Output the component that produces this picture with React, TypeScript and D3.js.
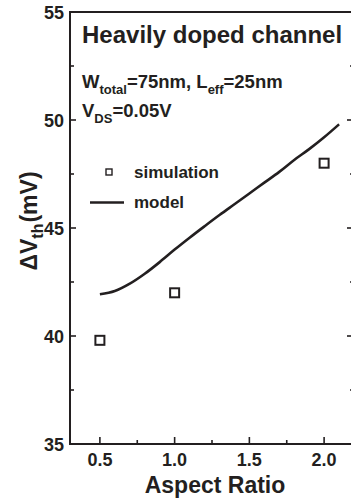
import React from 'react';
import * as d3 from 'd3';

// tick values
const xMajor = [0.5, 1.0, 1.5, 2.0];
const xMinor = [0.75, 1.25, 1.75];
const yMajor = [35, 40, 45, 50, 55];
const yMinor = [37.5, 42.5, 47.5, 52.5];

// simulation points
const simX = [0.5, 1.0, 2.0];
const simY = [39.8, 42.0, 48.0];

// model curve
const modelX = [0.5, 0.6, 0.7, 0.8, 0.9, 1.0, 1.1, 1.2, 1.3, 1.4, 1.5, 1.6, 1.7, 1.8, 1.9, 2.0, 2.1];
const modelY = [41.93, 42.08, 42.42, 42.88, 43.42, 44.0, 44.55, 45.08, 45.6, 46.1, 46.6, 47.1, 47.6, 48.15, 48.65, 49.2, 49.8];

const W = 351;
const H = 499;
const ink = '#231f20';
const font = "'Liberation Sans', Arial, Helvetica, sans-serif";

export default function App() {
  const x = d3.scaleLinear().domain([0.3, 2.2]).range([70, 354]);
  const y = d3.scaleLinear().domain([35, 55]).range([444, 12]);
  const [x0, x1] = x.range();
  const [y0, y1] = y.range();

  const line = d3
    .line<number>()
    .x((_, i) => x(modelX[i]))
    .y(d => y(d))
    .curve(d3.curveMonotoneX);

  return (
    <svg
      width={W}
      height={H}
      style={{ position: 'absolute', left: 0, top: 0, background: '#fff' }}
      fontFamily={font}
      fontWeight="bold"
      fill={ink}
    >
      {/* frame */}
      <line x1={x0} x2={x0} y1={y1 - 1} y2={y0 + 1} stroke={ink} strokeWidth={2} />
      <line x1={x0 - 1} x2={x1 + 1} y1={y0} y2={y0} stroke={ink} strokeWidth={2} />
      <line x1={x0 - 1} x2={x1 + 1} y1={y1} y2={y1} stroke={ink} strokeWidth={2} />
      <line x1={x1} x2={x1} y1={y1} y2={y0} stroke={ink} strokeWidth={2} />

      {/* x ticks */}
      {xMajor.map(v => (
        <g key={'xM' + v}>
          <line x1={x(v)} x2={x(v)} y1={y0} y2={y0 - 7} stroke={ink} strokeWidth={1.6} />
          <text x={x(v)} y={y0 + 22} textAnchor="middle" fontSize={18}>
            {v.toFixed(1)}
          </text>
        </g>
      ))}
      {xMinor.map(v => (
        <line key={'xm' + v} x1={x(v)} x2={x(v)} y1={y0} y2={y0 - 4} stroke={ink} strokeWidth={1.6} />
      ))}

      {/* y ticks */}
      {yMajor.map(v => (
        <g key={'yM' + v}>
          <line x1={x0} x2={x0 + 6} y1={y(v)} y2={y(v)} stroke={ink} strokeWidth={1.6} />
          <line x1={x1} x2={x1 - 7} y1={y(v)} y2={y(v)} stroke={ink} strokeWidth={1.6} />
          <text x={x0 - 6} y={y(v) + 6.5} textAnchor="end" fontSize={18}>
            {v}
          </text>
        </g>
      ))}
      {yMinor.map(v => (
        <g key={'ym' + v}>
          <line x1={x0} x2={x0 + 4} y1={y(v)} y2={y(v)} stroke={ink} strokeWidth={1.6} />
          <line x1={x1} x2={x1 - 4} y1={y(v)} y2={y(v)} stroke={ink} strokeWidth={1.6} />
        </g>
      ))}

      {/* axis titles */}
      <text x={215} y={493} textAnchor="middle" fontSize={23}>
        Aspect Ratio
      </text>
      <text transform="translate(37,221) rotate(-90)" textAnchor="middle" fontSize={23}>
        ΔV<tspan fontSize={16} dy={6}>th</tspan>
        <tspan dy={-6} dx={1}>(mV)</tspan>
      </text>

      {/* annotations */}
      <text x={82} y={43.3} fontSize={24}>
        Heavily doped channel
      </text>
      <text x={82} y={87.7} fontSize={18.5}>
        W<tspan fontSize={13} dy={6}>total</tspan>
        <tspan dy={-6}>=75nm, L</tspan>
        <tspan fontSize={13} dy={6}>eff</tspan>
        <tspan dy={-6}>=25nm</tspan>
      </text>
      <text x={82} y={117} fontSize={18.5}>
        V<tspan fontSize={13} dy={6}>DS</tspan>
        <tspan dy={-6}>=0.05V</tspan>
      </text>

      {/* legend */}
      <rect x={106} y={169} width={6} height={6} fill="none" stroke={ink} strokeWidth={1.4} />
      <text x={134} y={177.5} fontSize={17}>
        simulation
      </text>
      <line x1={90} x2={124} y1={202.5} y2={202.5} stroke={ink} strokeWidth={2.6} />
      <text x={134} y={208} fontSize={17}>
        model
      </text>

      {/* model curve */}
      <path d={line(modelY) ?? ''} fill="none" stroke={ink} strokeWidth={2.6} />

      {/* simulation markers */}
      {simX.map((v, i) => (
        <rect
          key={'s' + v}
          x={x(v) - 4.5}
          y={y(simY[i]) - 4.5}
          width={9}
          height={9}
          fill="none"
          stroke={ink}
          strokeWidth={2}
        />
      ))}
    </svg>
  );
}
